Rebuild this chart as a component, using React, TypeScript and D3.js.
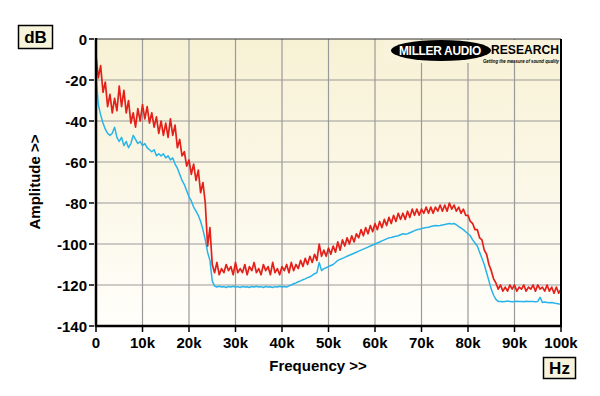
import React from 'react'
import { scaleLinear, line, range } from 'd3'

// sampled every 0.5 kHz, 0 .. 100 kHz
const freqs = range(0, 201).map(i => i * 500)

const redDb = [
  -8, -19, -13, -26, -21, -33, -27, -36, -29, -35,
  -23, -33, -25, -36, -30, -41, -36, -43, -34, -40,
  -32, -39, -33, -41, -36, -43, -38, -46, -40, -47,
  -41, -48, -39, -47, -42, -53, -49, -57, -55, -62,
  -59, -66, -61, -69, -64, -75, -70, -80, -101, -92,
  -110, -114, -109, -115, -112, -114, -110, -113, -111, -115,
  -109, -114, -112, -114, -110, -115, -111, -113, -109, -114,
  -112, -115, -110, -113, -111, -115, -109, -114, -112, -115,
  -111, -113, -110, -114, -109, -113, -110, -112, -108, -111,
  -107, -110, -106, -109, -105, -108, -100, -106, -103, -106,
  -102, -105, -101, -104, -99, -103, -98, -101, -97, -100,
  -96, -99, -95, -97, -93, -96, -92, -95, -91, -94,
  -90, -93, -89, -92, -88, -91, -87, -90, -86, -89,
  -85, -88, -85, -88, -84, -87, -83, -86, -83, -86,
  -83, -85, -82, -85, -82, -85, -82, -84, -81, -84,
  -81, -84, -80, -83, -81, -84, -82, -85, -83, -86,
  -86, -89, -90, -93, -93, -97, -98, -103, -105, -110,
  -113, -117, -119, -122, -120, -123, -121, -123, -120, -122,
  -120, -123, -121, -122, -120, -123, -121, -122, -120, -123,
  -120, -122, -121, -123, -120, -123, -121, -124, -121, -124,
  -122,
]

const blueDb = [
  -18, -32, -37, -41, -44, -46, -47, -46, -43, -48,
  -50, -48, -52, -50, -53, -51, -47, -49, -51, -50,
  -52, -51, -53, -54, -55, -54, -57, -56, -57, -56,
  -58, -57, -59, -58, -61, -63, -66, -69, -71, -74,
  -77, -79, -82, -84, -86, -89, -93, -98, -104, -108,
  -118, -120.5, -121, -120.6, -121, -120.8, -121.2, -120.7, -121, -120.6,
  -121, -120.8, -121.2, -120.7, -121, -120.9, -121.2, -120.7, -121, -120.6,
  -121, -120.8, -121.2, -120.7, -121, -120.9, -121.2, -120.8, -121, -120.6,
  -121, -120.7, -121, -120.4, -120, -119.4, -119, -118.4, -118, -117.4,
  -117, -116.4, -116, -115.3, -114.5, -114, -109, -113, -112, -111.6,
  -111, -110.5, -110, -109, -108, -107.5, -107, -106.5, -106, -105.5,
  -105, -104.5, -104, -103.5, -103, -102.5, -102, -101.5, -101, -100.5,
  -100, -99.5, -99, -98.5, -98, -97.5, -97, -96.8, -96.5, -96.2,
  -96, -95.5, -95, -95.2, -95, -94.5, -94, -93.5, -93, -92.8,
  -92.5, -92.2, -92, -91.8, -91.5, -91.2, -91, -91.1, -91, -90.7,
  -90.5, -90.2, -90, -90.2, -90, -90.6, -91.5, -92.2, -93, -94,
  -95, -96, -98, -99.5, -101, -104, -107, -110, -114, -118,
  -122, -125, -127, -128, -128, -128.2, -128, -127.8, -128, -128.2,
  -128, -127.9, -128.1, -128, -128.2, -127.9, -128, -128.1, -128, -128.2,
  -128, -126, -128.5, -128.3, -128.5, -128.7, -128.5, -128.8, -129, -129.2,
  -129.5,
]

const xTicks = [0, 10000, 20000, 30000, 40000, 50000, 60000, 70000, 80000, 90000, 100000]
const xTickLabels = ['0', '10k', '20k', '30k', '40k', '50k', '60k', '70k', '80k', '90k', '100k']
const yTicks = [0, -20, -40, -60, -80, -100, -120, -140]

const W = 600
const H = 396
const L = 96
const R = 561
const T = 39
const B = 326

const FONT = '"Liberation Sans", Arial, sans-serif'

const App = () => {
  const x = scaleLinear().domain([0, 100000]).range([L, R])
  const y = scaleLinear().domain([-140, 0]).range([B, T])

  const pathFor = (vals: number[]) =>
    line<number>()
      .x((d, i) => x(freqs[i]))
      .y(d => y(d))(vals) || ''

  return (
    <svg width={W} height={H} style={{ position: 'absolute', left: 0, top: 0, background: '#fff' }}
      fontFamily={FONT} fontWeight="bold">
      <defs>
        <linearGradient id="bg" x1="0" y1="0" x2="0" y2="1">
          <stop offset="0%" stopColor="#f7f1d4" />
          <stop offset="100%" stopColor="#fffefa" />
        </linearGradient>
        <clipPath id="plot">
          <rect x={L} y={T} width={R - L} height={B - T} />
        </clipPath>
      </defs>

      <rect x={L} y={T} width={R - L} height={B - T} fill="url(#bg)" />

      {/* grid */}
      {xTicks.slice(1, -1).map(t => (
        <line key={'gx' + t} x1={x(t)} x2={x(t)} y1={T} y2={B} stroke="#9a9a9a" strokeWidth={1.2} />
      ))}
      {yTicks.slice(1, -1).map(t => (
        <line key={'gy' + t} x1={L} x2={R} y1={y(t)} y2={y(t)} stroke="#9a9a9a" strokeWidth={1.2} />
      ))}

      {/* logo backing */}
      <rect x={384} y={T + 1} width={R - 385} height={23} fill="#f8f3da" />

      <g clipPath="url(#plot)" fill="none" strokeLinejoin="round">
        <path d={pathFor(blueDb)} stroke="#27b4ea" strokeWidth={1.5} />
        <path d={pathFor(redDb)} stroke="#e4201a" strokeWidth={1.7} />
      </g>

      {/* frame */}
      <line x1={L} x2={R} y1={T} y2={T} stroke="#333" strokeWidth={1} />
      <line x1={R} x2={R} y1={T} y2={B} stroke="#000" strokeWidth={2} />
      <line x1={L} x2={L} y1={T - 1} y2={B + 1} stroke="#000" strokeWidth={2.5} />
      <line x1={L - 1} x2={R + 1} y1={B} y2={B} stroke="#000" strokeWidth={2.5} />

      {/* y axis */}
      {yTicks.map(t => (
        <g key={'yt' + t}>
          <line x1={L - 7} x2={L - 2} y1={y(t)} y2={y(t)} stroke="#000" strokeWidth={1.5} />
          <text x={L - 9} y={y(t) + 5.5} textAnchor="end" fontSize={15} fill="#000">{t}</text>
        </g>
      ))}

      {/* x axis */}
      {xTicks.map((t, i) => (
        <g key={'xt' + t}>
          <line x1={x(t)} x2={x(t)} y1={B + 1} y2={B + 6} stroke="#000" strokeWidth={1.5} />
          <text x={x(t)} y={348} textAnchor="middle" fontSize={15} fill="#000">{xTickLabels[i]}</text>
        </g>
      ))}

      <text x={318} y={371} textAnchor="middle" fontSize={15} fill="#000">Frequency &gt;&gt;</text>
      <text transform="translate(40,182) rotate(-90)" textAnchor="middle" fontSize={15} fill="#000">Amplitude &gt;&gt;</text>

      {/* unit boxes */}
      <rect x={18.5} y={25.5} width={34} height={23} fill="#f8f4dc" stroke="#000" strokeWidth={1.5} />
      <text x={35.5} y={43} textAnchor="middle" fontSize={17} fill="#000">dB</text>
      <rect x={543.5} y={357.5} width={32} height={21} fill="#f8f4dc" stroke="#000" strokeWidth={1.5} />
      <text x={559.5} y={374} textAnchor="middle" fontSize={17} fill="#000">Hz</text>

      {/* logo */}
      <ellipse cx={441} cy={50.5} rx={50} ry={10.5} fill="#000" />
      <text x={440} y={55} textAnchor="middle" fontSize={12} fill="#fff" letterSpacing={-0.3}
        fontWeight={900} textLength={82} lengthAdjust="spacingAndGlyphs">MILLER AUDIO</text>
      <text x={491} y={54} fontSize={12} fill="#000" fontWeight={900}
        textLength={68} lengthAdjust="spacingAndGlyphs">RESEARCH</text>
      <text x={483} y={62.5} fontSize={4.8} fill="#000" fontStyle="italic"
        textLength={76} lengthAdjust="spacingAndGlyphs">Getting the measure of sound quality</text>
    </svg>
  )
}

export default App
